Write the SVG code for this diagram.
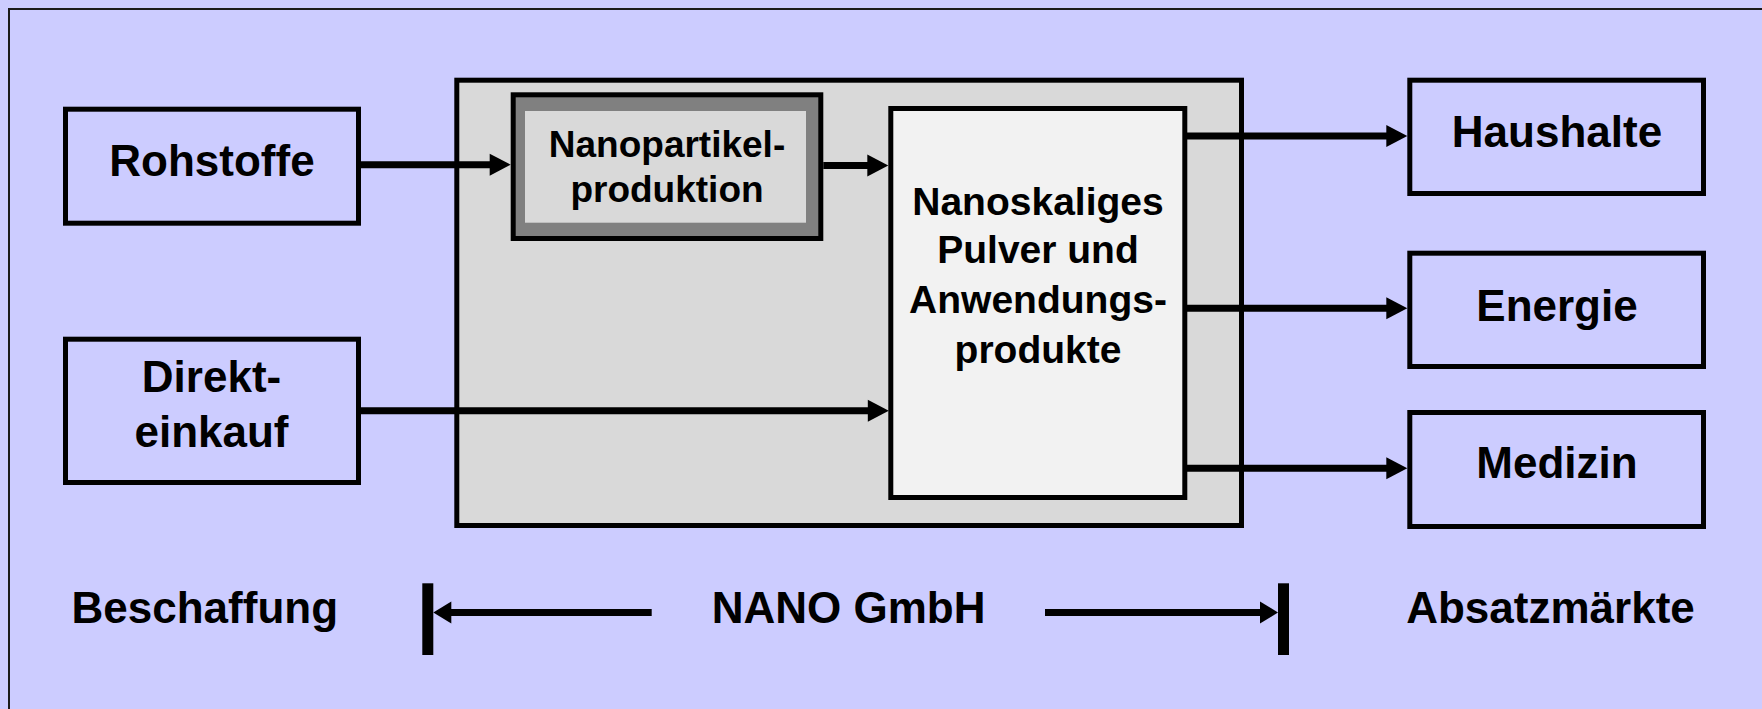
<svg xmlns="http://www.w3.org/2000/svg" width="1762" height="709" viewBox="0 0 1762 709">
<style>
.box{fill:#ccccff;stroke:#000;stroke-width:5}
.t{font-family:"Liberation Sans",Arial,Helvetica,sans-serif;font-weight:bold;fill:#000;text-anchor:middle}
.big{font-size:44px}
.mid{font-size:39px}
.sm{font-size:37px}
.con{fill:none;stroke:#000;stroke-width:7}
</style>
<defs>
<marker id="ah" markerUnits="userSpaceOnUse" markerWidth="22" markerHeight="22" refX="6" refY="11" orient="auto" overflow="visible">
<path d="M0,0 L21,11 L0,22 z" fill="#000"/>
</marker>
<marker id="ahs" markerUnits="userSpaceOnUse" markerWidth="20" markerHeight="22" refX="4" refY="11" orient="auto" overflow="visible">
<path d="M0,0 L18,11 L0,22 z" fill="#000"/>
</marker>
</defs>
<rect x="0" y="0" width="1762" height="709" fill="#ccccff"/>
<path d="M9,709 V9 H1762" fill="none" stroke="#1a1a1a" stroke-width="2"/>

<g id="nano-gmbh">
<rect x="456.8" y="80.2" width="784.7" height="445.3" fill="#d9d9d9" stroke="#000" stroke-width="5"/>
</g>

<g id="rohstoffe">
<rect class="box" x="65.5" y="109.2" width="293" height="114"/>
<text class="t big" x="212" y="175.7">Rohstoffe</text>
</g>

<g id="direkteinkauf">
<rect class="box" x="65.5" y="339.2" width="293" height="143.3"/>
<text class="t big" x="211.5" y="391.7">Direkt-</text>
<text class="t big" x="211.5" y="446.7">einkauf</text>
</g>

<g id="nanopartikelproduktion">
<rect x="513.2" y="94.8" width="307.6" height="143.7" fill="#808080" stroke="#000" stroke-width="5"/>
<rect x="525" y="111" width="281" height="111.7" fill="#d9d9d9"/>
<text class="t sm" x="667" y="157.3">Nanopartikel-</text>
<text class="t sm" x="667" y="202">produktion</text>
</g>

<g id="pulver">
<rect x="890.8" y="108.5" width="294" height="389" fill="#f2f2f2" stroke="#000" stroke-width="5"/>
<text class="t mid" x="1038" y="215">Nanoskaliges</text>
<text class="t mid" x="1038" y="263.3">Pulver und</text>
<text class="t mid" x="1038" y="313.3">Anwendungs-</text>
<text class="t mid" x="1038" y="363.3">produkte</text>
</g>

<g id="haushalte">
<rect class="box" x="1409.8" y="80.2" width="293.7" height="113.3"/>
<text class="t big" x="1557" y="147.3">Haushalte</text>
</g>

<g id="energie">
<rect class="box" x="1409.8" y="253.2" width="293.7" height="113.3"/>
<text class="t big" x="1557" y="320.7">Energie</text>
</g>

<g id="medizin">
<rect class="box" x="1409.8" y="412.5" width="293.7" height="114"/>
<text class="t big" x="1557" y="478.3">Medizin</text>
</g>

<g id="connectors">
<path class="con" d="M360.7,164.7 H495.7" marker-end="url(#ah)"/>
<path class="con" d="M823.3,165.5 H873.3" marker-end="url(#ah)"/>
<path class="con" d="M360.5,410.7 H873.8" marker-end="url(#ah)"/>
<path class="con" d="M1187,136 H1392.3" marker-end="url(#ah)"/>
<path class="con" d="M1187,308.3 H1392.3" marker-end="url(#ah)"/>
<path class="con" d="M1187,468.3 H1392.3" marker-end="url(#ah)"/>
<path class="con" d="M651.7,612.5 H447.3" marker-end="url(#ahs)"/>
<path class="con" d="M1045,612.5 H1264" marker-end="url(#ahs)"/>
<rect x="422.3" y="583.3" width="11" height="71.7" fill="#000"/>
<rect x="1278" y="583.3" width="11" height="71.7" fill="#000"/>
</g>

<g id="labels">
<text class="t big" x="204.8" y="623.3">Beschaffung</text>
<text class="t big" x="848.6" y="623.3">NANO GmbH</text>
<text class="t big" x="1550.5" y="623.3">Absatzmärkte</text>
</g>
</svg>
